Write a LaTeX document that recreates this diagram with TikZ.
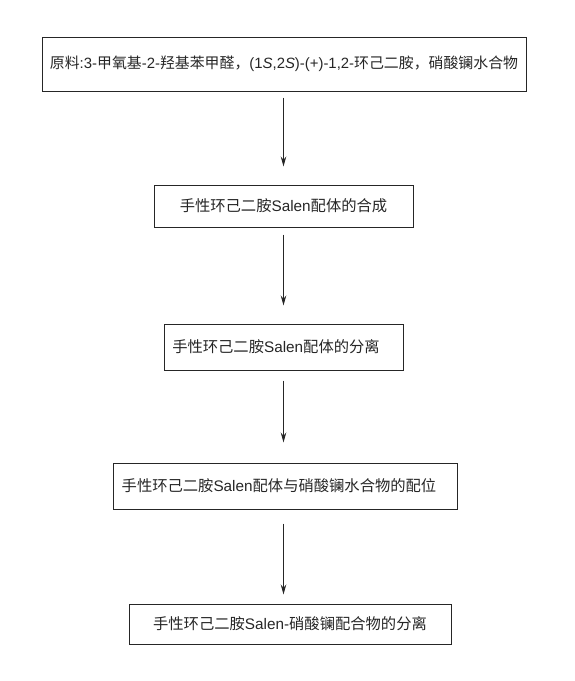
\documentclass[tikz,border=0pt]{standalone}
\usepackage{fontspec}
\setmainfont{Liberation Sans}
\newfontfamily\cjk{Noto Sans CJK SC}
\usetikzlibrary{arrows.meta}
\tikzset{
  boxnode/.style={draw=black!85, line width=1pt, inner sep=0pt, font=\fontsize{15.3}{17}\selectfont, text=black!85},
  arr/.style={draw=black!85, line width=0.9pt, -{Stealth[length=10pt,width=5.5pt]}}
}
\begin{document}
\begin{tikzpicture}[x=1pt,y=-1pt]
\useasboundingbox (0,0) rectangle (574,681);
\node[boxnode, minimum width=484pt, minimum height=54pt, font=\fontsize{14.9}{17}\selectfont] (b1) at (284,64)
  {{\cjk 原料}:3-{\cjk 甲氧基}-2-{\cjk 羟基苯甲醛，}(1\textit{S},2\textit{S})-(+)-1,2-{\cjk 环己二胺，硝酸镧水合物}};
\node[boxnode, minimum width=259pt, minimum height=42pt] (b2) at (283.5,206)
  {{\cjk 手性环己二胺}Salen{\cjk 配体的合成}};
\node[boxnode, minimum width=239pt, minimum height=46pt] (b3) at (283.5,347)
  {{\cjk 手性环己二胺}Salen{\cjk 配体的分离}\hspace*{15pt}};
\node[boxnode, minimum width=344pt, minimum height=46pt] (b4) at (285,486)
  {{\cjk 手性环己二胺}Salen{\cjk 配体与硝酸镧水合物的配位}\hspace*{12pt}};
\node[boxnode, minimum width=322pt, minimum height=40pt] (b5) at (290,624)
  {{\cjk 手性环己二胺}Salen-{\cjk 硝酸镧配合物的分离}};
\draw[arr] ([yshift=-6pt]b2.north |- b1.south) -- ([yshift=18pt]b2.north);
\draw[arr] ([yshift=-7pt]b2.south) -- ([yshift=18pt]b3.north);
\draw[arr] ([yshift=-10pt]b3.south) -- ([yshift=20pt]b3.north |- b4.north);
\draw[arr] ([yshift=-14pt]b3.south |- b4.south) -- ([yshift=9pt]b3.north |- b5.north);
\end{tikzpicture}
\end{document}
